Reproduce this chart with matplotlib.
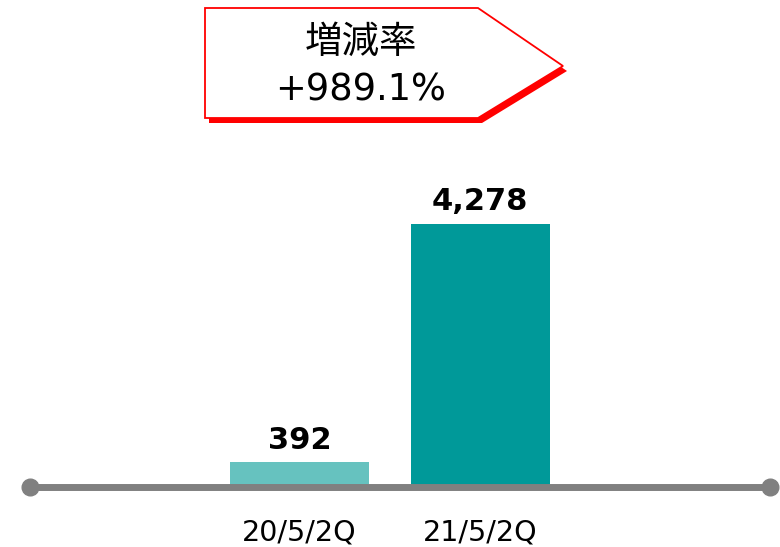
import matplotlib
matplotlib.use("Agg")
import matplotlib.pyplot as plt
from matplotlib.patches import Polygon

categories = ["20/5/2Q", "21/5/2Q"]
values = [392, 4278]
value_labels = ["392", "4,278"]
bar_colors = ["#66C2BF", "#009999"]
callout_title = "増減率"
callout_value = "+989.1%"

plt.rcParams['font.family'] = ['DejaVu Sans', 'Noto Sans CJK JP']

W, H = 780, 547
fig = plt.figure(figsize=(W / 100, H / 100), dpi=100)

# main axes covering whole figure
ax = fig.add_axes([0, 0, 1, 1])
spacing = 180.5
x0 = 299.5
base_px = 486.5  # from top
scale = 262.5 / 4278  # px per unit
ax.set_xlim(-x0 / spacing, (W - x0) / spacing)
ax.set_ylim(-(H - base_px) / scale, base_px / scale)
ax.axis('off')

xs = list(range(len(categories)))
ax.bar(xs, values, width=139 / spacing, color=bar_colors, zorder=2)
for x, v, lab in zip(xs, values, value_labels):
    ax.annotate(lab, (x, v), xytext=(0, 10), textcoords='offset points',
                ha='center', va='baseline', fontsize=22, fontweight='bold', color='black')
for x, c in zip(xs, categories):
    ax.annotate(c, (x, 0), xytext=(0, -39), textcoords='offset points',
                ha='center', va='baseline', fontsize=20.5, color='black')

# overlay axes in pixel coordinates
ov = fig.add_axes([0, 0, 1, 1], facecolor='none')
ov.set_xlim(0, W)
ov.set_ylim(H, 0)
ov.axis('off')

# baseline axis line with circular end caps
ov.plot([30, 770], [487, 487], color='#808080', lw=5, solid_capstyle='butt', zorder=3)
ov.plot([30, 770], [487, 487], 'o', color='#808080', ms=12, zorder=3)

# callout shape
pts = [(205, 8), (478, 8), (563, 66), (478, 118), (205, 118)]
shadow = Polygon([(x + 4, y + 5) for x, y in pts], closed=True, facecolor='#FF0000',
                 edgecolor='none', zorder=4)
ov.add_patch(shadow)
box = Polygon(pts, closed=True, facecolor='white', edgecolor='#FF0000', lw=1.3, zorder=5)
ov.add_patch(box)
ov.text(361, 42, callout_title, ha='center', va='center', fontsize=27,
        family=['Noto Sans CJK JP'], color='black', zorder=6)
ov.text(361, 90, callout_value, ha='center', va='center', fontsize=26.5,
        color='black', zorder=6)

fig.savefig("out.png", dpi=100)
